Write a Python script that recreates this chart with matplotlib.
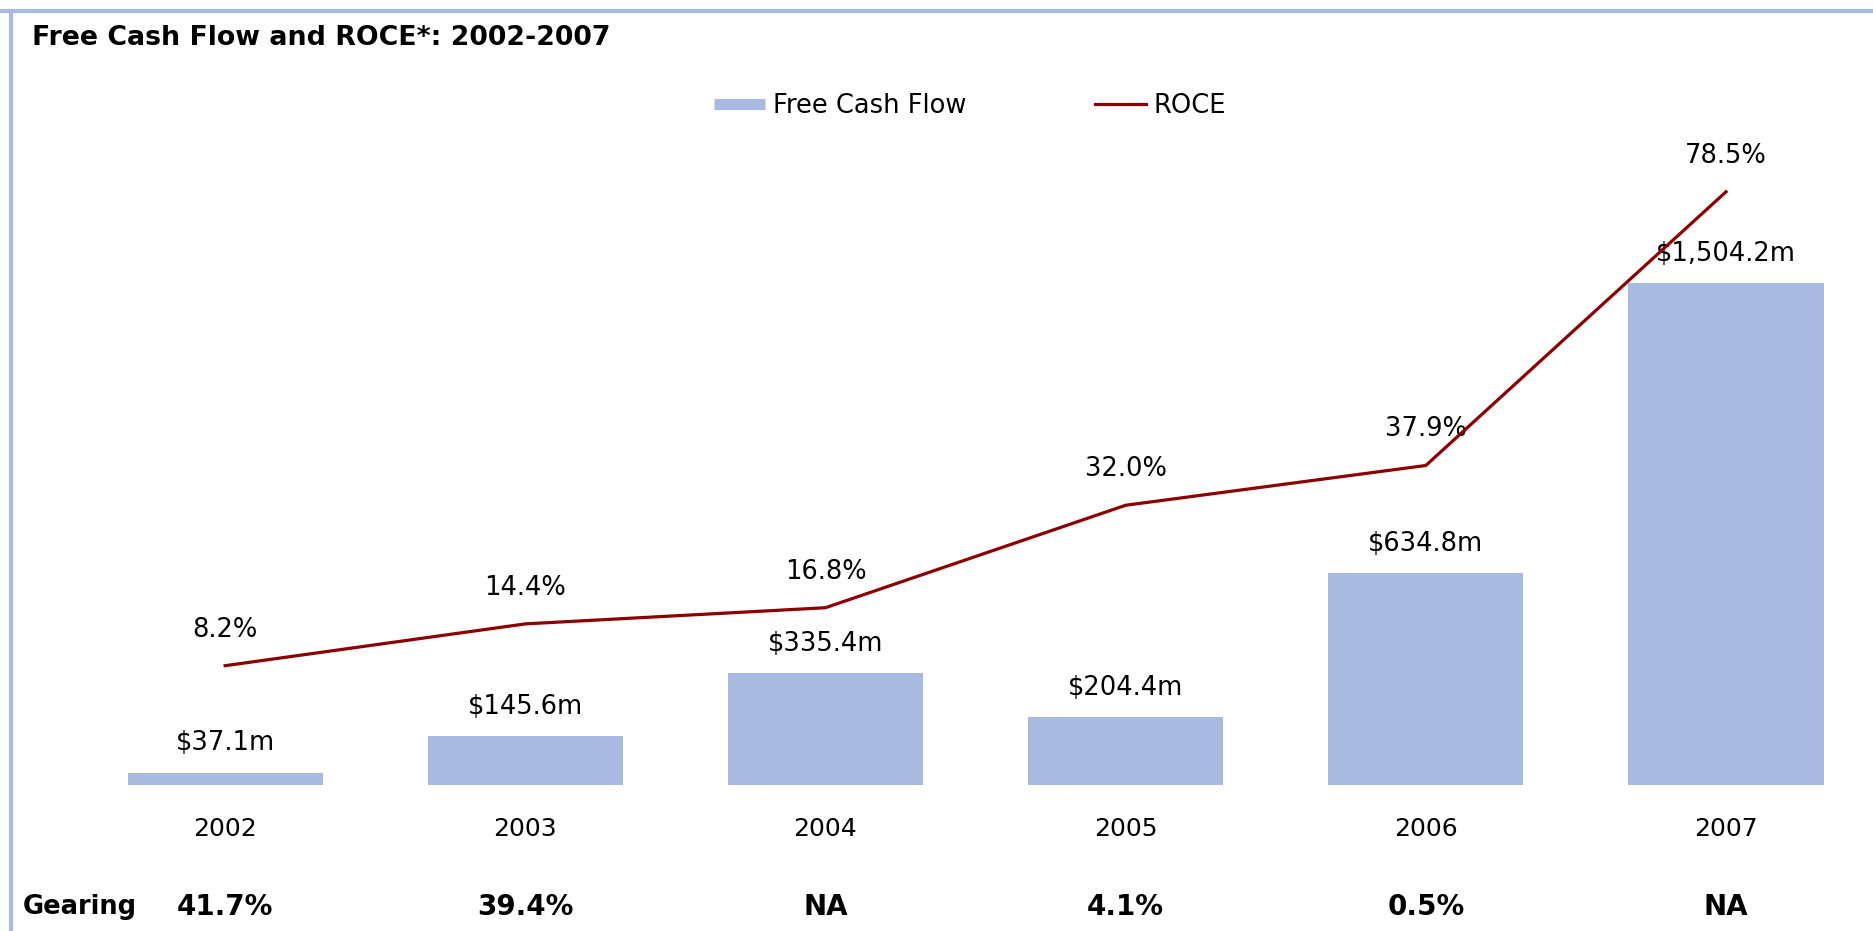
import matplotlib
matplotlib.use('Agg')
import matplotlib.pyplot as plt
import matplotlib.transforms as mtransforms
from matplotlib.lines import Line2D

plt.rcParams['font.family'] = ['DejaVu Sans']

years = ['2002', '2003', '2004', '2005', '2006', '2007']
fcf = [37.1, 145.6, 335.4, 204.4, 634.8, 1504.2]
fcf_labels = ['$37.1m', '$145.6m', '$335.4m', '$204.4m', '$634.8m', '$1,504.2m']
roce = [8.2, 14.4, 16.8, 32.0, 37.9, 78.5]
roce_labels = ['8.2%', '14.4%', '16.8%', '32.0%', '37.9%', '78.5%']
gearing = ['41.7%', '39.4%', 'NA', '4.1%', '0.5%', 'NA']

bar_color = '#A8BAE0'
line_color = '#8B0000'
border_color = '#A8BAE0'

W, H = 1874, 931
fig = plt.figure(figsize=(W / 100, H / 100), dpi=100)

# axes: bars baseline at y=785px, top at 150px
ax = fig.add_axes([0, 1 - 785 / H, 1, (785 - 150) / H])
x = list(range(len(years)))
ax.bar(x, fcf, width=0.65, color=bar_color, linewidth=0, zorder=1)
ax.set_xlim(-0.75, 5.493)
ax.set_ylim(0, 635 / 0.3337)
for s in ax.spines.values():
    s.set_visible(False)
ax.set_yticks([])
ax.set_xticks(x)
ax.set_xticklabels(years, fontsize=18)
ax.tick_params(axis='x', length=0, pad=23)

for xi, v, lab in zip(x, fcf, fcf_labels):
    ax.annotate(lab, (xi, v), xytext=(0, 21), textcoords='offset points',
                ha='center', va='center', fontsize=18.5, zorder=3)

ax2 = ax.twinx()
ax2.plot(x, roce, color=line_color, lw=2.3, zorder=4)
ax2.set_ylim(-9.5, 84.7)
ax2.set_yticks([])
for s in ax2.spines.values():
    s.set_visible(False)
for xi, v, lab in zip(x, roce, roce_labels):
    ax2.annotate(lab, (xi, v), xytext=(0, 26), textcoords='offset points',
                 ha='center', va='center', fontsize=18.5)

# gearing row
trans = mtransforms.blended_transform_factory(ax.transData, fig.transFigure)
gy = 1 - 907 / H
fig.text(23 / W, gy, 'Gearing', fontsize=18.5, fontweight='bold', ha='left', va='center')
for xi, g in zip(x, gearing):
    ax.text(xi, gy, g, transform=trans, fontsize=20, fontweight='bold',
            ha='center', va='center', clip_on=False)

# title
fig.text(32 / W, 1 - 38 / H, 'Free Cash Flow and ROCE*: 2002-2007',
         fontsize=19.3, fontweight='bold', ha='left', va='center')

# legend
handles = [Line2D([], [], color=bar_color, lw=8, solid_capstyle='butt'),
           Line2D([], [], color=line_color, lw=2.3)]
fig.legend(handles, ['Free Cash Flow', 'ROCE'], loc='center',
           bbox_to_anchor=(970 / W, 1 - 106 / H), ncol=2, frameon=False,
           fontsize=18.5, handlelength=2.0, handletextpad=0.3, columnspacing=5.0)

# frame lines
fig.add_artist(Line2D([0, 1], [1 - 11 / H, 1 - 11 / H], color=border_color, lw=3,
                      transform=fig.transFigure))
fig.add_artist(Line2D([11 / W, 11 / W], [0, 1 - 11 / H], color=border_color, lw=3,
                      transform=fig.transFigure))

fig.savefig('out.png', dpi=100)
